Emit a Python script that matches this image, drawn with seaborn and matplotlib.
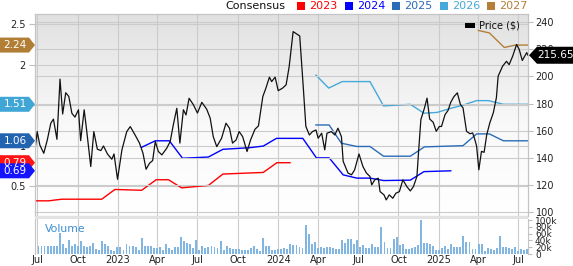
import numpy as np
import pandas as pd
import matplotlib
matplotlib.use("Agg")
import matplotlib.pyplot as plt
import seaborn as sns
from matplotlib.patches import Polygon, Rectangle
from matplotlib.transforms import IdentityTransform
from matplotlib.colors import LinearSegmentedColormap

# ---------------- data ----------------
price_dates = ["2022-06-26","2022-07-01","2022-07-07","2022-07-16","2022-07-24","2022-08-01","2022-08-07","2022-08-15","2022-08-22","2022-08-28",
"2022-09-04","2022-09-11","2022-09-18","2022-09-25","2022-10-03","2022-10-08","2022-10-16","2022-10-22","2022-10-31","2022-11-07",
"2022-11-15","2022-11-23","2022-11-29","2022-12-08","2022-12-18","2022-12-23","2022-12-31","2023-01-10","2023-01-21","2023-01-29",
"2023-02-09","2023-02-19","2023-02-27","2023-03-06","2023-03-14","2023-03-21","2023-03-27","2023-04-03","2023-04-11","2023-04-22",
"2023-04-30","2023-05-07","2023-05-15","2023-05-22","2023-05-30","2023-06-05","2023-06-12","2023-06-22","2023-07-01","2023-07-11",
"2023-07-22","2023-07-30","2023-08-06","2023-08-14","2023-08-25","2023-09-04","2023-09-12","2023-09-19","2023-09-27","2023-10-04",
"2023-10-12","2023-10-22","2023-10-30","2023-11-09","2023-11-17","2023-11-27","2023-12-04","2023-12-12","2023-12-17","2023-12-25",
"2024-01-01","2024-01-11","2024-01-19","2024-01-26","2024-02-04","2024-02-12","2024-02-19","2024-02-27","2024-03-04","2024-03-12",
"2024-03-19","2024-03-27","2024-04-01","2024-04-09","2024-04-16","2024-04-21","2024-05-01","2024-05-09","2024-05-16","2024-05-24",
"2024-05-28","2024-06-08","2024-06-16","2024-06-23","2024-07-03","2024-07-12","2024-07-20","2024-07-28","2024-08-01","2024-08-08",
"2024-08-16","2024-08-20","2024-08-29","2024-09-03","2024-09-10","2024-09-18","2024-09-25","2024-10-03","2024-10-11","2024-10-20",
"2024-10-28","2024-11-04","2024-11-12","2024-11-16","2024-11-21","2024-11-29","2024-12-05","2024-12-11","2024-12-19","2024-12-26",
"2025-01-02","2025-01-07","2025-01-15","2025-01-22","2025-01-28","2025-02-04","2025-02-12","2025-02-19","2025-02-25","2025-03-05",
"2025-03-13","2025-03-19","2025-03-24","2025-03-28","2025-04-02","2025-04-08","2025-04-14","2025-04-20","2025-04-27","2025-05-05",
"2025-05-12","2025-05-16","2025-05-26","2025-06-04","2025-06-10","2025-06-18","2025-06-27","2025-07-03","2025-07-10","2025-07-20",
"2025-07-23"]
price_values = [145.8,159.3,149.4,143.3,153.1,165.5,168.5,153.6,198.0,172.3,
188.0,185.2,172.8,170.0,175.4,152.6,175.4,159.3,133.5,159.3,
146.3,145.3,148.7,142.8,138.9,142.8,124.1,145.8,159.3,163.0,
156.8,150.8,143.3,131.5,136.0,137.9,152.0,144.6,142.1,147.0,
152.0,164.2,176.5,150.8,175.4,171.6,183.9,179.0,173.0,180.9,
175.9,169.3,155.6,148.2,154.4,165.5,161.8,150.8,153.1,159.3,
155.6,144.6,153.1,161.0,163.5,185.2,191.4,199.5,196.2,199.5,
189.5,191.4,193.8,207.3,233.1,231.4,229.9,192.5,163.1,156.8,
159.3,160.5,154.4,158.1,145.8,158.1,159.3,156.8,161.8,155.6,
137.3,128.7,127.4,131.0,142.8,133.5,128.7,126.2,120.0,123.7,
124.9,115.0,112.6,108.9,112.6,110.1,113.8,115.0,123.7,118.7,
115.5,118.7,126.2,145.8,168.2,176.5,184.0,168.6,166.2,159.5,
163.1,163.1,171.8,175.0,180.9,185.0,187.9,179.3,176.8,159.5,
157.7,158.3,153.3,148.4,131.1,144.7,144.0,157.0,165.7,173.2,
184.3,200.2,207.5,211.2,208.7,214.9,223.6,219.9,211.8,217.6,
215.65]
last_price = 215.65

eps2023_dates = ["2022-06-26","2022-07-27","2022-08-26","2022-11-25","2022-12-25","2023-02-24","2023-03-29","2023-04-26","2023-05-26","2023-07-26","2023-08-28","2023-11-28","2023-12-29","2024-01-28"]
eps2023_values = [0.32,0.32,0.34,0.34,0.46,0.45,0.58,0.58,0.48,0.51,0.65,0.67,0.79,0.79]

eps2024_dates = ["2023-02-24","2023-03-27","2023-04-28","2023-05-28","2023-07-26","2023-08-28","2023-10-28","2023-11-28","2023-12-28","2024-02-26","2024-03-28","2024-04-26","2024-05-28","2024-06-28","2024-07-28","2024-08-28","2024-10-28","2024-11-28","2025-01-28"]
eps2024_values = [0.98,1.06,1.06,0.845,0.86,0.955,0.975,0.995,1.09,1.09,0.85,0.85,0.64,0.60,0.60,0.57,0.575,0.68,0.69]

eps2025_dates = ["2024-03-27","2024-04-26","2024-05-24","2024-06-28","2024-07-28","2024-08-28","2024-10-28","2024-11-29","2025-02-25","2025-03-28","2025-04-26","2025-05-28","2025-07-22"]
eps2025_values = [1.255,1.255,1.03,0.99,0.99,0.87,0.87,0.985,1.0,1.145,1.145,1.06,1.06]

eps2026_dates = ["2024-03-27","2024-04-25","2024-05-26","2024-07-28","2024-08-28","2024-10-28","2024-11-28","2024-12-28","2025-01-28","2025-02-25","2025-03-28","2025-04-24","2025-05-28","2025-07-22"]
eps2026_values = [1.87,1.71,1.79,1.79,1.49,1.51,1.40,1.41,1.46,1.50,1.555,1.555,1.51,1.51]

eps2027_dates = ["2025-04-01","2025-04-26","2025-05-30","2025-06-24","2025-07-22"]
eps2027_values = [2.42,2.39,2.21,2.24,2.24]

series_names = ["2023", "2024", "2025", "2026", "2027"]

volume_k = [25,23,25,25,25,25,23,25,61,28,18,41,25,28,25,38,25,21,25,33,16,11,38,28,25,13,9,21,21,13,
28,25,23,21,13,48,23,23,25,18,18,21,13,28,18,13,21,21,50,38,33,28,18,41,13,25,18,21,23,21,
18,37,13,25,18,15,15,15,11,13,13,18,23,15,10,48,25,25,13,13,15,
14,18,16,29,27,26,21,19,86,60,29,34,18,21,17,21,21,18,16,16,40,32,43,43,28,42,21,26,18,18,
28,22,21,79,36,17,17,43,49,27,29,14,16,17,20,26,99,31,32,28,24,11,11,19,24,14,28,21,21,21,
53,36,34,16,16,30,30,10,19,14,11,18,53,21,21,18,14,20,10,16,11,16]

x_tick_dates = ["2022-07-01","2022-10-01","2023-01-01","2023-04-01","2023-07-01","2023-10-01","2024-01-01",
                "2024-04-01","2024-07-01","2024-10-01","2025-01-01","2025-04-01","2025-07-01"]
x_tick_labels = ["Jul","Oct","2023","Apr","Jul","Oct","2024","Apr","Jul","Oct","2025","Apr","Jul"]
eps_ticks = [0.5, 1, 1.5, 2, 2.5]
eps_tick_labels = ["0.5", "1", "1.5", "2", "2.5"]
price_ticks = [100, 120, 140, 160, 180, 200, 220, 240]
vol_ticks = [0, 20, 40, 60, 80, 100]
vol_tick_labels = ["0", "20k", "40k", "60k", "80k", "100k"]

# ---------------- style ----------------
colors = {"2023": "#ff0000", "2024": "#0000ff", "2025": "#2a6cb8", "2026": "#45a9d9", "2027": "#b47f38"}
badge_colors = {"2023": "#ff1414", "2024": "#1414ff", "2025": "#2264b0", "2026": "#40a6d6", "2027": "#b27e36"}
grid_c = "#cbcbcb"
W, H = 573, 266

fig = plt.figure(figsize=(W / 100, H / 100), dpi=100)

def frac(x0, y0, x1, y1):
    return [x0 / W, 1 - y1 / H, (x1 - x0) / W, (y1 - y0) / H]

# background gradient
bg = fig.add_axes(frac(35, 14, 528, 216), zorder=0)
cmap = LinearSegmentedColormap.from_list("g", [(0, "#e1e1e1"), (0.55, "#f9f9f9"), (1, "#ffffff")])
bg.imshow(np.linspace(0, 1, 256).reshape(-1, 1), aspect="auto", cmap=cmap, extent=[0, 1, 0, 1], origin="upper")
bg.axis("off")

ax_eps = fig.add_axes(frac(35, 14, 528, 216), zorder=1)
ax_eps.patch.set_visible(False)
ax_price = ax_eps.twinx()
ax_price.set_zorder(2)
ax_price.patch.set_visible(False)
ax_vol = fig.add_axes(frac(35, 219, 528, 254), sharex=ax_eps)

xlim = (pd.Timestamp("2022-06-26"), pd.Timestamp("2025-07-23"))

# EPS lines
eps_data = [(eps2023_dates, eps2023_values), (eps2024_dates, eps2024_values), (eps2025_dates, eps2025_values),
            (eps2026_dates, eps2026_values), (eps2027_dates, eps2027_values)]
for name, (d, v) in zip(series_names, eps_data):
    sns.lineplot(x=pd.to_datetime(d), y=v, ax=ax_eps, color=colors[name], linewidth=1.0)

# price line
sns.lineplot(x=pd.to_datetime(price_dates), y=price_values, ax=ax_price, color="#111111", linewidth=0.9)

# volume
vol_dates = pd.date_range("2022-06-27", "2025-07-21", periods=len(volume_k))
ax_vol.bar(vol_dates, volume_k, width=4.3, color="#82b6e2", zorder=2)

# limits
ax_eps.set_xlim(*xlim)
ax_eps.set_ylim(0.133, 2.623)
ax_price.set_ylim(97.0, 246.1)
ax_vol.set_ylim(0, 103)

xt = pd.to_datetime(x_tick_dates)
for a in (ax_eps, ax_price, ax_vol):
    a.set_xlabel("")
    a.set_ylabel("")

ax_eps.set_xticks(xt)
ax_eps.tick_params(axis="x", length=0, labelbottom=False)
ax_eps.set_yticks(eps_ticks)
ax_eps.set_yticklabels(eps_tick_labels)
ax_eps.tick_params(axis="y", length=4.5, width=0.8, color="#bdbdbd", labelsize=7, pad=2, labelcolor="#222222")
ax_eps.grid(True, color=grid_c, linewidth=0.8)
ax_eps.set_axisbelow(True)

ax_price.set_yticks(price_ticks)
ax_price.set_yticklabels([str(t) for t in price_ticks])
ax_price.tick_params(axis="y", length=3.5, width=0.8, color="#bdbdbd", labelsize=7, pad=2, labelcolor="#222222")
ax_price.tick_params(axis="x", length=0, labelbottom=False)
ax_price.grid(axis="y", color=grid_c, linewidth=0.8)
ax_price.set_axisbelow(True)

for a in (ax_eps, ax_price):
    for s in a.spines.values():
        s.set_color("#c4c4c4")
        s.set_linewidth(0.8)

ax_vol.set_xticks(xt)
ax_vol.set_xticklabels(x_tick_labels)
ax_vol.tick_params(axis="x", length=0, labelsize=7, pad=1, labelcolor="#222222")
ax_vol.yaxis.tick_right()
ax_vol.set_yticks(vol_ticks)
ax_vol.set_yticklabels(vol_tick_labels)
ax_vol.tick_params(axis="y", length=3, width=0.8, color="#bdbdbd", labelsize=6.5, pad=2, labelcolor="#222222")
ax_vol.grid(axis="x", color=grid_c, linewidth=0.8, zorder=0)
ax_vol.set_axisbelow(True)
ax_vol.set_facecolor("white")
for k, s in ax_vol.spines.items():
    s.set_color("#c4c4c4")
    s.set_linewidth(0.8)
ax_vol.spines["bottom"].set_visible(False)
ax_vol.spines["top"].set_visible(False)

# separator band between panels
fig.add_artist(Rectangle((35, H - 219), 493, 3, transform=IdentityTransform(), facecolor="#e2e2e2", edgecolor="none", zorder=5))

# ---------------- badges ----------------
ident = IdentityTransform()

def eps_y(v):
    return ax_eps.transData.transform((ax_eps.get_xlim()[0], v))[1]

def price_y(v):
    return ax_price.transData.transform((ax_price.get_xlim()[0], v))[1]

for name, label in [("2027", "2.24"), ("2026", "1.51"), ("2025", "1.06"), ("2023", "0.79"), ("2024", "0.69")]:
    y = eps_y(float(label))
    pts = [(0, y - 7.5), (29, y - 7.5), (35, y), (29, y + 7.5), (0, y + 7.5)]
    fig.add_artist(Polygon(pts, closed=True, transform=ident, facecolor=badge_colors[name], edgecolor="none", zorder=10))
    fig.text(15 / W, y / H, label, color="white", fontsize=7.5, ha="center", va="center", zorder=11)

yp = price_y(last_price)
pts = [(529, yp), (537, yp - 8.5), (W, yp - 8.5), (W, yp + 8.5), (537, yp + 8.5)]
fig.add_artist(Polygon(pts, closed=True, transform=ident, facecolor="black", edgecolor="none", zorder=10))
fig.text(555 / W, yp / H, f"{last_price:.2f}", color="white", fontsize=7.5, ha="center", va="center", zorder=11)

# ---------------- legends ----------------
fig.text(255 / W, (H - 6) / H, "Consensus", fontsize=8, ha="center", va="center", color="#111111")
sq_x = [297, 345, 392, 440, 487]
for name, x0 in zip(series_names, sq_x):
    fig.add_artist(Rectangle((x0, H - 10), 8, 8, transform=ident, facecolor=colors[name], edgecolor="none"))
    fig.text((x0 + 12) / W, (H - 6) / H, name, fontsize=8, ha="left", va="center", color=colors[name])

fig.add_artist(Rectangle((465, H - 28), 10, 5, transform=ident, facecolor="black", edgecolor="none", zorder=10))
fig.text(479 / W, (H - 26) / H, "Price ($)", fontsize=7, ha="left", va="center", color="#111111", zorder=11)

fig.text(45 / W, (H - 229) / H, "Volume", fontsize=7.8, ha="left", va="center", color="#3d8fd4", zorder=11)

fig.savefig("out.png", dpi=100)
